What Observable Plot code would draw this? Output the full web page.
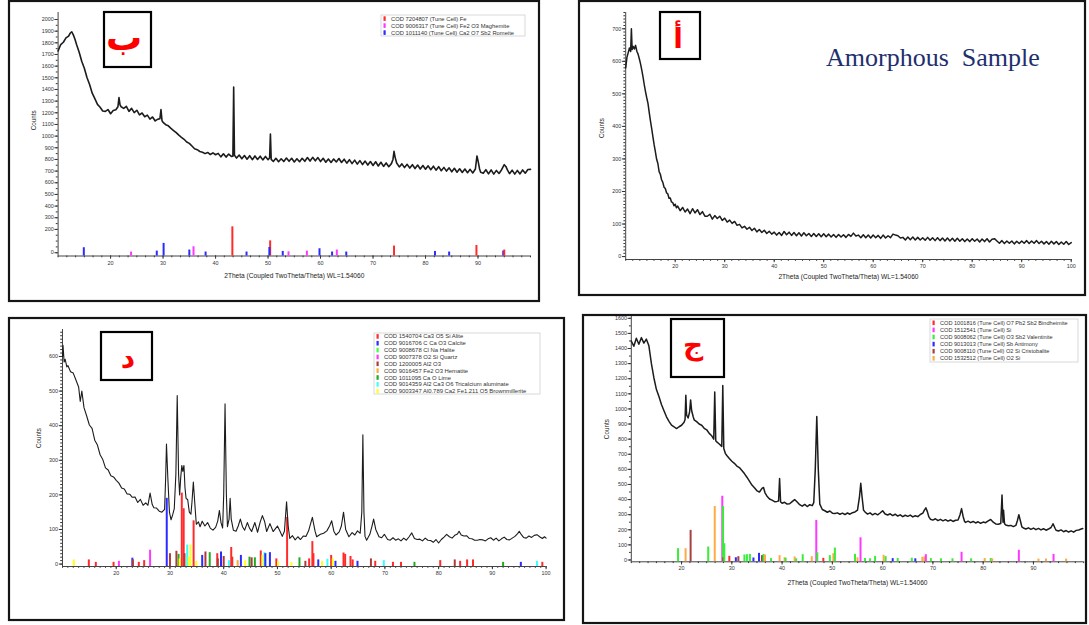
<!DOCTYPE html>
<html><head><meta charset="utf-8">
<script src="https://cdn.jsdelivr.net/npm/d3@7"></script>
<script src="https://cdn.jsdelivr.net/npm/@observablehq/plot@0.6"></script>
<style>
html,body{margin:0;padding:0;background:#fff}
body{width:1089px;height:625px;position:relative;overflow:hidden;font-family:"Liberation Sans",Arial,sans-serif}
.wrap{position:absolute}
</style></head><body>
<script>
// ---------- DATA ----------
const xLabel = "2Theta (Coupled TwoTheta/Theta) WL=1.54060";

// Panel ب
const phasesB = ["COD 7204807 (Tune Cell) Fe","COD 9006317 (Tune Cell) Fe2 O3 Maghemite","COD 1011140 (Tune Cell) Ca2 O7 Sb2 Romeite"];
const colorsB = ["#ff2b2b","#ff38ff","#2b2bff"];
const xTicksB = [20,30,40,50,60,70,80,90];
const yTicksB = [0,200,300,400,500,600,700,800,900,1000,1100,1200,1300,1400,1500,1600,1700,1800,1900,2000];
const patternB = [[10,1730],[10.5,1785],[11,1805],[11.5,1842],[12,1858],[12.3,1882],[12.6,1895],[12.9,1868],[13.2,1832],[13.5,1788],[14,1722],[14.5,1642],[15,1582],[15.5,1502],[16,1442],[16.5,1368],[17,1322],[17.5,1272],[18,1248],[18.5,1215],[19,1212],[19.5,1228],[20,1192],[20.5,1220],[21,1226],[21.4,1252],[21.6,1330],[21.8,1268],[22,1252],[22.5,1238],[23,1256],[23.5,1212],[24,1238],[24.5,1202],[25,1222],[25.5,1182],[26,1198],[26.5,1166],[27,1180],[27.5,1146],[28,1164],[28.5,1130],[29,1145],[29.4,1150],[29.6,1228],[29.8,1132],[30,1118],[30.5,1098],[31,1088],[31.5,1066],[32,1048],[32.5,1030],[33,1008],[33.5,990],[34,973],[34.5,950],[35,938],[35.5,915],[36,892],[36.5,884],[37,868],[37.5,862],[38,850],[38.5,860],[39,842],[39.5,856],[40,840],[40.5,852],[41,822],[41.5,848],[42,820],[42.5,846],[43,826],[43.3,828],[43.45,1420],[43.6,836],[44,812],[44.5,838],[45,806],[45.5,834],[46,802],[46.5,832],[47,798],[47.5,830],[48,800],[48.5,828],[49,796],[49.5,826],[50,798],[50.3,815],[50.45,1018],[50.6,800],[51,782],[51.5,810],[52,780],[52.5,806],[53,782],[53.5,812],[54,784],[54.5,810],[55,778],[55.5,806],[56,780],[56.5,810],[57,784],[57.5,816],[58,786],[58.5,818],[59,788],[59.5,816],[60,782],[60.5,810],[61,776],[61.5,804],[62,774],[62.5,804],[63,778],[63.5,808],[64,774],[64.5,802],[65,768],[65.5,798],[66,764],[66.5,794],[67,760],[67.5,790],[68,756],[68.5,786],[69,752],[69.5,782],[70,748],[70.5,780],[71,744],[71.5,776],[72,740],[72.5,770],[73,738],[73.5,764],[73.8,800],[74,870],[74.2,820],[74.5,770],[75,736],[75.5,762],[76,730],[76.5,758],[77,726],[77.5,755],[78,722],[78.5,752],[79,718],[79.5,748],[80,716],[80.5,745],[81,712],[81.5,742],[82,708],[82.5,738],[83,703],[83.5,732],[84,700],[84.5,728],[85,694],[85.5,724],[86,690],[86.5,720],[87,688],[87.5,718],[88,686],[88.5,715],[89,684],[89.5,718],[89.8,830],[90,790],[90.3,718],[90.5,690],[91,682],[91.5,712],[92,676],[92.5,710],[93,674],[93.5,706],[94,680],[94.5,712],[95,755],[95.3,740],[95.6,710],[96,678],[96.5,708],[97,674],[97.5,706],[98,676],[98.5,710],[99,682],[99.5,714],[100,715]];
const sticksB = [[14.9,43,2],[23.9,6,1],[28.8,14,2],[30.1,80,2],[35.0,23,2],[35.8,51,1],[38.1,6,2],[43.2,222,0],[45.9,6,2],[50.4,102,0],[50.25,45,2],[52.8,11,2],[53.9,8,1],[57.4,14,1],[59.8,34,2],[62.2,6,2],[63.1,23,1],[64.9,6,2],[74.0,57,0],[81.8,11,2],[84.5,6,2],[89.7,62,0],[94.8,14,2],[95.0,23,0]];

// Panel أ
const xTicksA = [20,30,40,50,60,70,80,90,100];
const yTicksA = [0,100,200,300,400,500,600,700];
const patternA = [[10,580],[10.25,612],[10.5,626],[10.75,641],[11,630],[11.15,700],[11.3,636],[11.5,646],[11.75,638],[12,649],[12.25,631],[12.5,622],[12.75,608],[13,592],[13.25,573],[13.5,552],[13.75,528],[14,507],[14.25,488],[14.5,471],[14.75,443],[15,417],[15.25,393],[15.5,368],[15.75,343],[16,322],[16.25,299],[16.5,286],[16.75,261],[17,253],[17.25,236],[17.5,228],[17.75,213],[18,209],[18.25,196],[18.5,193],[18.75,179],[19,180],[19.25,168],[19.5,166],[19.75,156],[20,161],[20.25,150],[20.5,155],[21,141],[21.5,151],[22,137],[22.5,146],[23,132],[23.5,147],[24,134],[24.5,144],[25,129],[25.5,138],[26,124],[26.5,124],[27,130],[27.5,115],[28,126],[28.5,117],[29,124],[29.5,111],[30,118],[30.5,106],[31,112],[31.5,102],[32,108],[32.5,96],[33,99],[33.5,88],[34,93],[34.5,84],[35,90],[35.5,80],[36,87],[36.5,76],[37,83],[37.5,74],[38,81],[38.5,71],[39,78],[39.5,69],[40,75],[40.5,66],[41,74],[41.5,65],[42,77],[42.5,67],[43,75],[43.5,65],[44,74],[44.5,64],[45,73],[45.5,63],[46,73],[46.5,64],[47,71],[47.5,62],[48,71],[48.5,62],[49,70],[49.5,61],[50,70],[50.5,61],[51,69],[51.5,60],[52,68],[52.5,59],[53,68],[53.5,60],[54,67],[54.5,59],[55,68],[55.5,62],[56,72],[56.5,63],[57,66],[57.5,58],[58,67],[58.5,58],[59,66],[59.5,57],[60,66],[60.5,58],[61,65],[61.5,56],[62,66],[62.5,57],[63,64],[63.5,58],[64,69],[64.5,66],[65,64],[65.5,57],[66,59],[66.5,51],[67,60],[67.5,52],[68,60],[68.5,51],[69,59],[69.5,51],[70,58],[70.5,50],[71,59],[71.5,50],[72,58],[72.5,49],[73,58],[73.5,49],[74,57],[74.5,48],[75,57],[75.5,48],[76,56],[76.5,47],[77,56],[77.5,47],[78,55],[78.5,46],[79,54],[79.5,46],[80,55],[80.5,47],[81,54],[81.5,45],[82,54],[82.5,46],[83,55],[83.5,45],[84,53],[84.5,55],[85,48],[85.5,41],[86,49],[86.5,40],[87,48],[87.5,41],[88,48],[88.5,39],[89,47],[89.5,40],[90,48],[90.5,41],[91,49],[91.5,40],[92,48],[92.5,41],[93,49],[93.5,40],[94,47],[94.5,39],[95,46],[95.5,38],[96,47],[96.5,39],[97,46],[97.5,37],[98,45],[98.5,38],[99,46],[99.5,37],[100,43]];

// Panel د
const phasesD = ["COD 1540704 Ca3 O5 Si Alite","COD 9016706 C Ca O3 Calcite","COD 9008678 Cl Na Halite","COD 9007378 O2 Si Quartz","COD 1200005 Al2 O3","COD 9016457 Fe2 O3 Hematite","COD 1011095 Ca O Lime","COD 9014359 Al2 Ca3 O6 Tricalcium aluminate","COD 9003347 Al0.789 Ca2 Fe1.211 O5 Brownmillerite"];
const colorsD = ["#ff2b2b","#2b2bff","#40ff40","#ff38ff","#b03a3a","#ffaa33","#22aa22","#38ffff","#ffff22"];
const xTicksD = [20,30,40,50,60,70,80,90,100];
const yTicksD = [0,100,200,300,400,500,600];
const patternD = [[10,600],[10.1,632],[10.3,584],[10.5,592],[10.8,570],[11,574],[11.5,556],[12,552],[12.5,532],[13,512],[13.3,470],[13.6,500],[14,452],[14.5,428],[15,402],[15.5,392],[16,358],[16.5,344],[17,316],[17.5,302],[18,278],[18.5,272],[19,255],[19.5,252],[20,242],[20.5,234],[21,220],[21.5,217],[22,203],[22.5,202],[23,193],[23.5,194],[24,178],[24.5,187],[25,170],[25.5,177],[25.9,170],[26.3,205],[26.7,172],[27,163],[27.5,162],[28,153],[28.5,150],[29,158],[29.2,250],[29.35,347],[29.6,250],[29.9,150],[30.2,128],[30.5,142],[30.8,160],[31.1,260],[31.35,487],[31.6,260],[31.8,200],[32.0,250],[32.2,285],[32.4,268],[32.6,285],[32.8,220],[33.0,190],[33.3,186],[33.6,150],[33.9,144],[34.1,180],[34.35,237],[34.6,180],[34.9,115],[35.3,122],[35.6,108],[36,124],[36.5,110],[37,120],[37.5,104],[38,98],[38.5,106],[38.9,125],[39.2,155],[39.5,120],[39.8,104],[40.0,200],[40.25,463],[40.5,200],[40.7,108],[41.0,130],[41.2,190],[41.4,130],[41.8,98],[42.3,95],[42.7,110],[43.1,130],[43.5,108],[43.9,98],[44.4,120],[44.8,104],[45.2,94],[45.8,120],[46.3,92],[46.8,122],[47.2,140],[47.6,124],[48.0,94],[48.6,117],[49.2,94],[49.6,102],[50.0,110],[50.5,94],[50.9,80],[51.3,95],[51.7,180],[52.0,110],[52.3,74],[52.8,82],[53.3,70],[53.8,79],[54.3,71],[54.8,81],[55.3,80],[55.8,96],[56.5,135],[57.0,95],[57.3,79],[58,86],[58.6,89],[59.2,96],[59.7,110],[60.1,125],[60.5,95],[60.9,84],[61.5,93],[61.9,110],[62.3,150],[62.7,100],[63.3,79],[63.9,91],[64.4,84],[64.9,96],[65.4,89],[65.7,150],[65.9,374],[66.1,150],[66.3,80],[66.6,69],[67.2,86],[67.6,110],[67.9,130],[68.3,100],[68.9,79],[69.4,76],[69.9,86],[70.5,71],[71,69],[71.5,76],[72,69],[72.5,73],[73,67],[73.5,75],[74,69],[74.5,79],[75,90],[75.5,74],[76,71],[76.5,72],[77,67],[77.5,75],[78,69],[78.5,68],[79,63],[79.5,71],[80,61],[80.5,71],[81,78],[81.5,86],[82,79],[82.5,75],[83,83],[83.5,87],[83.8,95],[84.2,84],[84.7,81],[85.2,82],[85.7,74],[86.2,73],[86.7,69],[87.2,69],[87.7,71],[88.2,70],[88.7,67],[89.2,73],[89.7,76],[90.2,69],[90.7,75],[91.2,67],[91.7,73],[92.2,78],[92.7,71],[93.2,70],[93.7,75],[94.2,80],[94.7,88],[95.0,95],[95.4,85],[95.8,77],[96.3,75],[96.8,81],[97.3,77],[97.8,83],[98.3,85],[98.8,79],[99.3,74],[99.7,79],[100,75]];
const sticksD = [[12.1,12,8],[14.9,12,0],[16.2,5,0],[19.5,5,0],[20.5,8,3],[23.0,17,1],[23.1,12,4],[24.2,5,0],[25.2,10,0],[26.3,40,3],[29.4,190,1],[30.0,30,4],[31.2,37,4],[31.6,28,6],[31.8,15,8],[32.2,205,0],[32.55,160,0],[32.7,30,4],[33.2,55,7],[33.5,20,8],[33.8,55,8],[34.4,125,0],[34.9,8,8],[36.0,25,1],[36.6,35,4],[37.4,33,6],[38.8,30,0],[38.9,15,4],[39.5,35,1],[40.0,22,4],[41.0,10,7],[41.4,48,0],[41.6,20,0],[42.6,10,5],[43.2,25,1],[44.0,10,8],[44.8,20,6],[45.2,18,4],[45.8,18,6],[46.9,38,0],[47.2,25,8],[47.6,33,7],[47.75,30,1],[48.6,33,1],[49.8,15,0],[50.1,7,8],[51.8,135,0],[52.6,5,8],[54.1,18,6],[55.2,8,4],[55.9,15,0],[56.5,65,0],[56.7,30,0],[57.6,12,1],[58.3,8,8],[59.3,14,7],[60.0,25,0],[60.3,15,8],[60.8,8,1],[62.3,32,0],[62.6,28,0],[63.6,22,0],[64.0,12,0],[64.9,8,1],[67.4,15,4],[68.2,8,0],[69.8,10,7],[71.5,5,0],[73.0,5,0],[75.5,5,6],[80.3,10,0],[83.0,12,4],[84.0,8,0],[85.3,12,0],[86.4,12,0],[92.0,5,6],[95.3,5,1],[98.3,8,7],[99.3,5,0]];

// Panel ج
const phasesJ = ["COD 1001816 (Tune Cell) O7 Pb2 Sb2 Bindheimite","COD 1512541 (Tune Cell) Si","COD 9008062 (Tune Cell) O3 Sb2 Valentinite","COD 9013013 (Tune Cell) Sb Antimony","COD 9008110 (Tune Cell) O2 Si Cristobalite","COD 1532512 (Tune Cell) O2 Si"];
const colorsJ = ["#ff2b2b","#ff38ff","#38ee38","#2b2bff","#a84040","#ffaa44"];
const xTicksJ = [20,30,40,50,60,70,80,90];
const yTicksJ = [0,100,200,300,400,500,600,700,800,900,1000,1100,1200,1300,1400,1500,1600];
const patternJ = [[10,1450],[10.5,1415],[11,1468],[11.5,1428],[12,1472],[12.5,1436],[13,1462],[13.5,1418],[14,1300],[14.5,1205],[15,1128],[15.5,1082],[16,1030],[16.5,988],[17,948],[17.5,918],[18,893],[18.5,882],[19,870],[19.5,882],[20,892],[20.5,912],[20.7,930],[20.85,1090],[21.0,960],[21.3,940],[21.6,980],[21.8,1060],[22.0,990],[22.3,950],[22.5,928],[23,916],[23.5,900],[24,892],[24.5,872],[25,862],[25.5,838],[26,822],[26.4,800],[26.6,1112],[26.8,790],[27,782],[27.5,768],[28.0,752],[28.2,1155],[28.4,738],[28.7,706],[29,692],[29.5,672],[30,654],[30.5,640],[31,622],[31.5,612],[32,593],[32.5,572],[33,548],[33.5,522],[34,496],[34.5,478],[35,458],[35.5,450],[36,474],[36.3,480],[36.6,445],[37,422],[37.5,404],[38,396],[38.5,386],[39,388],[39.3,390],[39.5,540],[39.7,384],[40,376],[40.5,382],[41,370],[41.5,372],[42,386],[42.5,400],[43,384],[43.5,366],[44,356],[44.5,368],[45,354],[45.5,366],[46,360],[46.3,380],[46.6,600],[46.9,950],[47.2,600],[47.5,370],[48,334],[48.5,326],[49,316],[49.5,324],[50,310],[50.5,308],[51,312],[51.5,303],[52,310],[52.5,301],[53,311],[53.5,303],[54,313],[54.5,318],[55,330],[55.4,420],[55.65,508],[55.9,420],[56.2,330],[56.5,318],[57,304],[57.5,312],[58,299],[58.5,308],[59,299],[59.5,311],[60,326],[60.5,304],[61,298],[61.5,306],[62,294],[62.5,303],[63,291],[63.5,299],[64,287],[64.5,296],[65,289],[65.5,297],[66,285],[66.5,293],[67,287],[67.5,301],[68,310],[68.3,330],[68.6,345],[68.9,320],[69.2,285],[69.5,270],[70,264],[70.5,273],[71,261],[71.5,269],[72,259],[72.5,267],[73,257],[73.5,265],[74,255],[74.5,263],[75,265],[75.4,300],[75.7,340],[76.0,290],[76.3,255],[76.5,249],[77,257],[77.5,247],[78,255],[78.5,245],[79,253],[79.5,243],[80,251],[80.5,247],[81,259],[81.5,268],[82,250],[82.5,239],[83,237],[83.5,241],[83.75,430],[83.95,250],[84.05,330],[84.25,240],[84.5,231],[85,227],[85.5,229],[86,221],[86.5,229],[86.8,260],[87.1,300],[87.4,260],[87.7,219],[88,212],[88.5,205],[89,213],[89.5,203],[90,211],[90.5,201],[91,209],[91.5,199],[92,207],[92.5,197],[93,205],[93.5,215],[93.9,240],[94.3,210],[94.5,197],[95,192],[95.5,199],[96,187],[96.5,195],[97,185],[97.5,193],[98,184],[98.5,196],[99,199],[99.5,205],[99.8,208]];
const sticksJ = [[19.3,75,2],[20.8,75,5],[21.8,196,4],[25.3,86,2],[26.6,354,5],[28.1,422,1],[28.25,354,2],[28.3,15,4],[28.5,108,2],[29.5,24,0],[30.8,15,3],[31.3,22,4],[32.5,33,2],[33.0,35,2],[33.6,37,2],[34.3,13,3],[35.4,44,3],[36.0,29,4],[36.3,37,2],[36.6,33,5],[37.8,9,2],[39.5,29,5],[40.5,15,5],[40.7,12,2],[42.5,20,5],[42.8,8,2],[44.1,35,2],[45.9,22,5],[46.8,262,1],[47.0,48,2],[48.2,11,0],[49.5,29,2],[50.2,42,5],[50.5,79,2],[54.5,37,2],[55.0,15,5],[55.6,147,1],[56.5,10,2],[57.5,8,2],[58.5,24,2],[60.2,31,5],[60.6,22,2],[62.0,9,3],[63.0,10,2],[65.8,12,2],[66.5,8,3],[67.9,18,5],[68.3,20,5],[68.6,35,1],[69.6,9,2],[71.6,8,2],[73.9,8,2],[75.7,51,1],[77.6,8,2],[80.3,10,5],[81.5,10,2],[81.8,8,5],[87.1,64,1],[91.0,6,5],[92.5,6,5],[94.0,37,1],[96.5,6,5]];

// ---------- DRAWING ----------
function xrd(c) {
  const [bl, bt, bw, bh] = c.box;
  const [fx0, fx1, fyt, fyb] = c.frame;
  const marks = [
    Plot.axisX({ticks: c.xMinor, tickSize: 1.8, tickFormat: () => "", label: null}),
    Plot.axisY({ticks: c.yMinor, tickSize: 1.8, tickFormat: () => "", label: null}),
    Plot.axisX({ticks: c.xTicks, tickSize: 3.2, tickPadding: 1.5, tickFormat: d => String(d), label: null}),
    Plot.axisY({ticks: c.yTicks, tickSize: 3.2, tickPadding: 1.2, tickFormat: d => String(d), label: null}),
    Plot.ruleY([c.yDomain[0]], {stroke: "#444", strokeWidth: 1}),
    Plot.ruleX([c.xDomain[0]], {stroke: "#444", strokeWidth: 1})
  ];
  if (c.sticks) marks.push(Plot.ruleX(c.sticks, {x: d => d[0], y1: c.yDomain[0], y2: d => d[1], stroke: d => c.colors[d[2]], strokeWidth: 2}));
  marks.push(Plot.line(c.pattern, {x: d => d[0], y: d => d[1], stroke: "#1c1c1c", strokeWidth: c.lw, strokeLinejoin: "round"}));
  marks.push(Plot.text(["Counts"], {text: d => d, frameAnchor: "left", dx: c.cdx, dy: c.cdy, rotate: -90, fontSize: 6.3, fill: "#222"}));
  if (c.xLabel) marks.push(Plot.text([c.xLabel], {text: d => d, frameAnchor: "bottom", dy: c.ldy, fontSize: 6.6, fill: "#222"}));
  const svg = Plot.plot({
    width: bw, height: bh,
    marginLeft: fx0 - bl, marginRight: bl + bw - fx1,
    marginTop: fyt - bt, marginBottom: bt + bh - fyb,
    x: {domain: c.xDomain}, y: {domain: c.yDomain},
    color: {type: "identity"},
    style: {fontSize: "5.4px", fontFamily: "Liberation Sans, Arial, sans-serif", color: "#333", background: "transparent", overflow: "visible"},
    marks
  });
  const div = document.createElement("div");
  div.className = "wrap";
  div.style.left = bl + "px"; div.style.top = bt + "px";
  div.style.width = bw + "px"; div.style.height = bh + "px";
  div.appendChild(svg);
  document.body.appendChild(div);
}

xrd({box: [10, 2, 528, 298], frame: [57.6, 530, 12, 255.5], xDomain: [10, 100], yDomain: [-28, 2060],
  pattern: patternB, sticks: sticksB, colors: colorsB, xTicks: xTicksB, xMinor: d3.range(10, 100.01, 10/6),
  yTicks: yTicksB, yMinor: d3.range(0, 2001, 50), xLabel, ldy: 21.5, cdx: -24.6, cdy: -4, lw: 1.6});
xrd({box: [580, 3, 504, 291], frame: [625.2, 1070.7, 12, 259], xDomain: [10, 100], yDomain: [-9, 750],
  pattern: patternA, xTicks: xTicksA, xMinor: d3.range(10, 100.01, 10/7),
  yTicks: yTicksA, yMinor: d3.range(0, 751, 10), xLabel, ldy: 19, cdx: -23.5, cdy: 2, lw: 1.5});
xrd({box: [10, 319, 553, 300], frame: [62, 545.6, 329, 566], xDomain: [10, 100], yDomain: [-7, 678],
  pattern: patternD, sticks: sticksD, colors: colorsD, xTicks: xTicksD, xMinor: d3.range(10, 100.01, 1),
  yTicks: yTicksD, yMinor: d3.range(0, 671, 10), xLabel: null, cdx: -24, cdy: 0, lw: 1.1});
xrd({box: [584, 316, 501, 306], frame: [630.8, 1083.2, 316, 561.3], xDomain: [10, 100], yDomain: [-12, 1612],
  pattern: patternJ, sticks: sticksJ, colors: colorsJ, xTicks: xTicksJ, xMinor: d3.range(10, 100.01, 10/6),
  yTicks: yTicksJ, yMinor: d3.range(0, 1601, 50), xLabel, ldy: 23, cdx: -24, cdy: 0, lw: 1.5});

// ---------- OVERLAY: frames, tags, legends, caption ----------
const ov = d3.select("body").append("svg")
  .attr("width", 1089).attr("height", 625)
  .style("position", "absolute").style("left", "0px").style("top", "0px");

[[9, 1, 530, 300], [579, 1, 506, 294], [9, 318, 555, 302], [583, 315, 503, 308]].forEach(([x, y, w, h]) =>
  ov.append("rect").attr("x", x).attr("y", y).attr("width", w).attr("height", h)
    .attr("fill", "none").attr("stroke", "#151515").attr("stroke-width", 2.2));

function tag(x, y, w, h, letter, tx, ty, fs) {
  ov.append("rect").attr("x", x).attr("y", y).attr("width", w).attr("height", h)
    .attr("fill", "#fff").attr("stroke", "#000").attr("stroke-width", 2.2);
  ov.append("text").attr("x", tx).attr("y", ty).attr("text-anchor", "middle")
    .attr("font-family", "DejaVu Sans").attr("font-weight", "bold").attr("font-size", fs)
    .attr("fill", "#ff0000").text(letter);
}
tag(104, 12, 47, 55, "ب", 124, 50, 36);
tag(660, 12, 40, 47, "أ", 678, 48, 28);
tag(101, 332, 51, 48, "د", 128, 368, 28);
tag(671, 319, 53, 58, "ج", 693, 354, 28);

function legend(x, y, w, h, names, colors, y0, step, fs) {
  ov.append("rect").attr("x", x).attr("y", y).attr("width", w).attr("height", h)
    .attr("fill", "#fff").attr("stroke", "#cfcfcf").attr("stroke-width", 0.8);
  names.forEach((n, i) => {
    const cy = y0 + i * step;
    ov.append("rect").attr("x", x + 2.5).attr("y", cy - 2.3).attr("width", 2.2).attr("height", 4.6).attr("fill", colors[i]);
    ov.append("text").attr("x", x + 10).attr("y", cy).attr("dominant-baseline", "central")
      .attr("font-family", "Liberation Sans, Arial, sans-serif").attr("font-size", fs).attr("fill", "#333").text(n);
  });
}
legend(381, 15, 144, 21, phasesB, colorsB, 18.6, 7, 5.8);
legend(374, 333, 166, 61, phasesD, colorsD, 336.4, 6.85, 5.9);
legend(930, 319, 148, 43, phasesJ, colorsJ, 322.8, 7.1, 5.6);

ov.append("text").attr("x", 826).attr("y", 66).attr("font-family", "Liberation Serif, Times New Roman, serif")
  .attr("font-size", 26).attr("fill", "#1e2f6e").style("white-space", "pre").text("Amorphous  Sample");
</script>
</body></html>
